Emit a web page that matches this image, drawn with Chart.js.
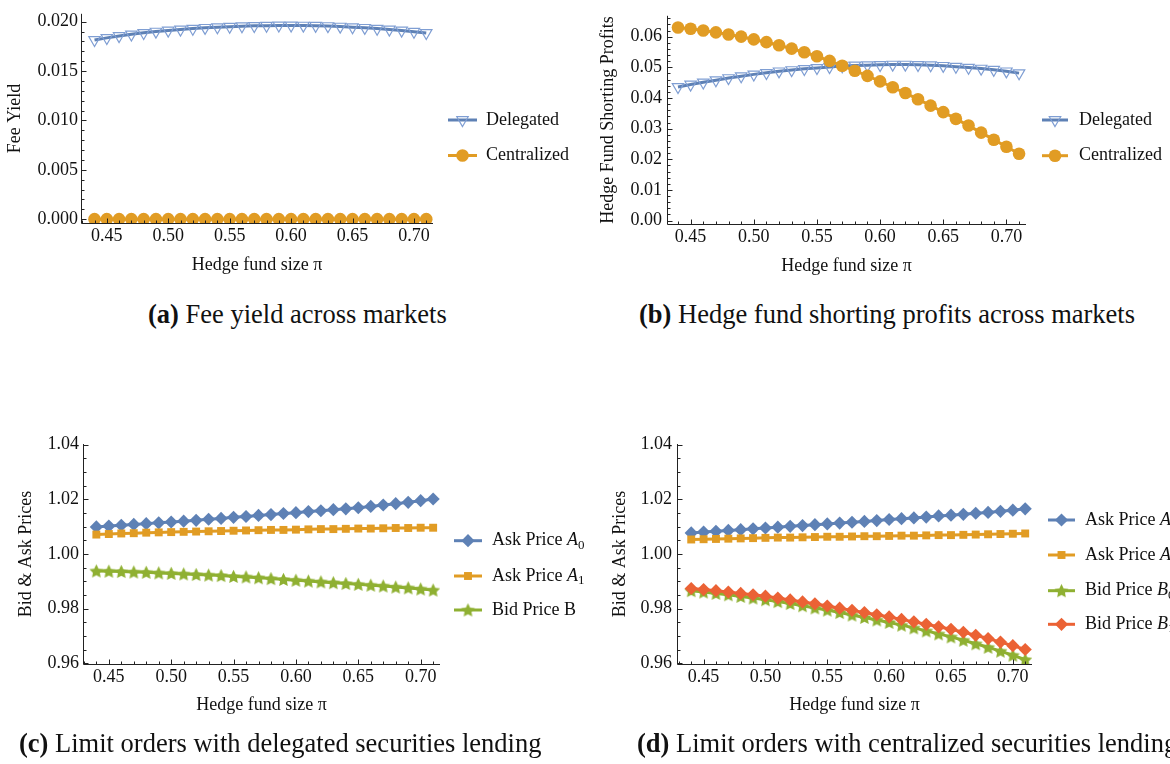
<!DOCTYPE html>
<html>
<head>
<meta charset="utf-8">
<script src="https://cdn.jsdelivr.net/npm/chart.js@4"></script>
<style>
  html, body { margin: 0; padding: 0; background: #fff; }
  body { width: 1170px; height: 764px; position: relative; overflow: hidden; }
  canvas { position: absolute; }
  .cap { position: absolute; white-space: nowrap; font-family: 'Liberation Serif', 'Times New Roman', serif;
         font-size: 26.5px; line-height: 30px; color: #111; }
</style>
</head>
<body>
<canvas id="pa" width="585" height="290" style="left:0;top:0"></canvas>
<canvas id="pb" width="585" height="290" style="left:585px;top:0"></canvas>
<canvas id="pc" width="585" height="330" style="left:0;top:400px"></canvas>
<canvas id="pd" width="585" height="330" style="left:585px;top:400px"></canvas>
<div class="cap" style="left:148px;top:299px"><b>(a)</b> Fee yield across markets</div>
<div class="cap" style="left:639px;top:299px"><b>(b)</b> Hedge fund shorting profits across markets</div>
<div class="cap" style="left:19px;top:728px"><b>(c)</b> Limit orders with delegated securities lending</div>
<div class="cap" style="left:637px;top:728px"><b>(d)</b> Limit orders with centralized securities lending</div>
<script>
// ---- data ----
const hedgeFundSize = [0.44, 0.45, 0.46, 0.47, 0.48, 0.49, 0.50, 0.51, 0.52, 0.53, 0.54, 0.55, 0.56, 0.57,
                       0.58, 0.59, 0.60, 0.61, 0.62, 0.63, 0.64, 0.65, 0.66, 0.67, 0.68, 0.69, 0.70, 0.71];

const feeYieldDelegated = [0.01815, 0.01836, 0.01855, 0.01872, 0.01887, 0.01900, 0.01911, 0.01921, 0.01930, 0.01938,
                           0.01945, 0.01950, 0.01955, 0.01958, 0.01960, 0.01962, 0.01962, 0.01961, 0.01959, 0.01956,
                           0.01951, 0.01945, 0.01938, 0.01930, 0.01921, 0.01911, 0.01899, 0.01886];
const feeYieldCentralized = [0, 0, 0, 0, 0, 0, 0, 0, 0, 0, 0, 0, 0, 0, 0, 0, 0, 0, 0, 0, 0, 0, 0, 0, 0, 0, 0, 0];

const profitsDelegated = [0.0436, 0.0444, 0.0451, 0.0458, 0.0465, 0.0471, 0.0477, 0.0482, 0.0487, 0.0491,
                          0.0495, 0.0498, 0.0501, 0.0504, 0.0506, 0.0507, 0.0508, 0.0509, 0.0509, 0.0508,
                          0.0507, 0.0505, 0.0502, 0.0499, 0.0496, 0.0492, 0.0487, 0.0481];
const profitsCentralized = [0.0630, 0.0626, 0.0620, 0.0614, 0.0607, 0.0600, 0.0591, 0.0582, 0.0572, 0.0561,
                            0.0549, 0.0536, 0.0521, 0.0505, 0.0489, 0.0472, 0.0454, 0.0435, 0.0416, 0.0396,
                            0.0375, 0.0354, 0.0332, 0.0310, 0.0287, 0.0264, 0.0241, 0.0218];

const delegatedAskA0 = [1.0099, 1.0102, 1.0105, 1.0108, 1.0111, 1.0114, 1.0117, 1.0120, 1.0123, 1.0127,
                        1.0130, 1.0134, 1.0137, 1.0141, 1.0144, 1.0148, 1.0151, 1.0155, 1.0158, 1.0162,
                        1.0165, 1.0169, 1.0174, 1.0179, 1.0184, 1.0189, 1.0195, 1.0201];
const delegatedAskA1 = [1.0071, 1.0073, 1.0075, 1.0076, 1.0078, 1.0079, 1.0080, 1.0081, 1.0082, 1.0083,
                        1.0084, 1.0085, 1.0086, 1.0087, 1.0088, 1.0088, 1.0089, 1.0090, 1.0091, 1.0091,
                        1.0092, 1.0093, 1.0093, 1.0094, 1.0095, 1.0095, 1.0096, 1.0096];
const delegatedBidB = [0.9938, 0.9937, 0.9936, 0.9934, 0.9933, 0.9931, 0.9929, 0.9927, 0.9925, 0.9923,
                       0.9921, 0.9918, 0.9916, 0.9913, 0.9910, 0.9907, 0.9904, 0.9901, 0.9898, 0.9895,
                       0.9892, 0.9889, 0.9886, 0.9883, 0.9879, 0.9876, 0.9872, 0.9868];

const centralizedAskA0 = [1.0077, 1.0080, 1.0083, 1.0086, 1.0089, 1.0092, 1.0095, 1.0098, 1.0101, 1.0104,
                          1.0107, 1.0110, 1.0113, 1.0116, 1.0119, 1.0122, 1.0126, 1.0129, 1.0132, 1.0135,
                          1.0139, 1.0142, 1.0145, 1.0149, 1.0152, 1.0156, 1.0160, 1.0165];
const centralizedAskA1 = [1.0053, 1.0054, 1.0055, 1.0056, 1.0057, 1.0058, 1.0059, 1.0060, 1.0060, 1.0061,
                          1.0062, 1.0063, 1.0063, 1.0064, 1.0065, 1.0065, 1.0066, 1.0067, 1.0067, 1.0068,
                          1.0069, 1.0069, 1.0070, 1.0071, 1.0072, 1.0073, 1.0074, 1.0075];
const centralizedBidB0 = [0.9866, 0.9861, 0.9856, 0.9851, 0.9845, 0.9839, 0.9833, 0.9826, 0.9819, 0.9811,
                          0.9803, 0.9795, 0.9786, 0.9777, 0.9768, 0.9759, 0.9750, 0.9740, 0.9730, 0.9719,
                          0.9708, 0.9697, 0.9685, 0.9672, 0.9659, 0.9645, 0.9630, 0.9614];
const centralizedBidB1 = [0.9874, 0.9870, 0.9866, 0.9861, 0.9856, 0.9851, 0.9846, 0.9839, 0.9832, 0.9825,
                          0.9818, 0.9810, 0.9802, 0.9794, 0.9786, 0.9778, 0.9770, 0.9761, 0.9752, 0.9743,
                          0.9734, 0.9725, 0.9714, 0.9703, 0.9691, 0.9678, 0.9665, 0.9651];

// tick labels
const xTickLabels = ['0.45', '0.50', '0.55', '0.60', '0.65', '0.70'];
const feeTickLabels = ['0.000', '0.005', '0.010', '0.015', '0.020'];
const profitTickLabels = ['0.00', '0.01', '0.02', '0.03', '0.04', '0.05', '0.06'];
const priceTickLabels = ['0.96', '0.98', '1.00', '1.02', '1.04'];

// ---- styling ----
const SERIF = "'Liberation Serif', 'Times New Roman', serif";
const BLUE = '#5E81B5', ORANGE = '#E19C24', GREEN = '#8FB032', RED = '#EB6235';
const AXIS = '#222';

function starMarker(color, r) {
  const size = Math.ceil(2 * r) + 2;
  const c = document.createElement('canvas');
  c.width = c.height = size;
  const g = c.getContext('2d');
  g.fillStyle = color;
  g.beginPath();
  for (let k = 0; k < 10; k++) {
    const rr = k % 2 ? r * 0.5 : r;
    const a = -Math.PI / 2 + k * Math.PI / 5;
    g.lineTo(size / 2 + rr * Math.cos(a), size / 2 + 0.6 + rr * Math.sin(a));
  }
  g.closePath();
  g.fill();
  return c;
}
const STAR = starMarker(GREEN, 7.3);

const markers = {
  triangleDown: { pointStyle: 'triangle', pointRotation: 180, pointRadius: 6.6,
                  pointBackgroundColor: 'rgba(255,255,255,0)', pointBorderColor: '#7F9ED3', pointBorderWidth: 1.2 },
  disc:    (c) => ({ pointStyle: 'circle', pointRadius: 6.3, pointBackgroundColor: c, pointBorderColor: c, pointBorderWidth: 0 }),
  diamond: (c) => ({ pointStyle: 'rectRot', pointRadius: 6.6, pointBackgroundColor: c, pointBorderColor: c, pointBorderWidth: 0 }),
  square:  (c) => ({ pointStyle: 'rect', pointRadius: 5.6, pointBackgroundColor: c, pointBorderColor: c, pointBorderWidth: 0 }),
  star:    { pointStyle: STAR, pointRadius: 7, pointBackgroundColor: GREEN, pointBorderColor: GREEN, pointBorderWidth: 0 }
};

function series(label, values, color, marker, idx) {
  return Object.assign({
    label: label,
    data: hedgeFundSize.map((x, i) => ({ x: x, y: values[i] })),
    borderColor: color,
    borderWidth: 3,
    tension: 0,
    order: -idx
  }, marker);
}

// Axis lines with inward major/minor ticks, drawn from the chart's scales
const inwardAxes = {
  id: 'inwardAxes',
  afterDatasetsDraw(chart, args, o) {
    const { ctx, chartArea: ca, scales: { x, y } } = chart;
    ctx.save();
    ctx.strokeStyle = AXIS;
    ctx.lineWidth = 1;
    const seg = (x1, y1, x2, y2) => { ctx.beginPath(); ctx.moveTo(x1, y1); ctx.lineTo(x2, y2); ctx.stroke(); };
    const isMajor = (v, step) => Math.abs(v / step - Math.round(v / step)) < 1e-6;
    const bottom = Math.round(ca.bottom) + 0.5, left = Math.round(ca.left) + 0.5;
    seg(left, ca.top, left, bottom);
    seg(left, bottom, ca.right, bottom);
    for (let k = Math.ceil(x.min / o.xMinor - 1e-9); k * o.xMinor <= x.max + 1e-9; k++) {
      const v = k * o.xMinor;
      const px = Math.round(x.getPixelForValue(v)) + 0.5;
      seg(px, bottom, px, bottom - (isMajor(v, o.xMajor) ? 5 : 3));
    }
    for (let k = Math.ceil(y.min / o.yMinor - 1e-9); k * o.yMinor <= y.max + 1e-9; k++) {
      const v = k * o.yMinor;
      const py = Math.round(y.getPixelForValue(v)) + 0.5;
      seg(left, py, left + (isMajor(v, o.yMajor) ? 5 : 3), py);
    }
    ctx.restore();
  }
};

// Side legend: line sample + marker, text with italic symbol and subscript, e.g. "Ask Price {A}_0"
function drawRichText(ctx, text, x, y, size) {
  const m = text.match(/^(.*?)\{(\w+)\}(?:_(\w+))?$/);
  ctx.textBaseline = 'middle';
  ctx.textAlign = 'left';
  ctx.fillStyle = '#111';
  ctx.font = size + 'px ' + SERIF;
  if (!m) { ctx.fillText(text, x, y); return; }
  ctx.fillText(m[1], x, y);
  x += ctx.measureText(m[1]).width;
  ctx.font = 'italic ' + size + 'px ' + SERIF;
  ctx.fillText(m[2], x, y);
  x += ctx.measureText(m[2]).width;
  if (m[3]) {
    ctx.font = Math.round(size * 0.7) + 'px ' + SERIF;
    ctx.fillText(m[3], x, y + size * 0.25);
  }
}
const sideLegend = {
  id: 'sideLegend',
  afterDraw(chart, args, o) {
    const ctx = chart.ctx;
    chart.data.datasets.forEach((ds, i) => {
      const y = o.ys[i];
      ctx.save();
      ctx.strokeStyle = ds.borderColor;
      ctx.lineWidth = ds.borderWidth;
      ctx.beginPath(); ctx.moveTo(o.x0, y); ctx.lineTo(o.x1, y); ctx.stroke();
      ctx.fillStyle = ds.pointBackgroundColor;
      ctx.strokeStyle = ds.pointBorderColor;
      ctx.lineWidth = ds.pointBorderWidth;
      Chart.helpers.drawPoint(ctx, {
        pointStyle: ds.pointStyle, radius: ds.pointRadius,
        rotation: ds.pointRotation || 0, borderWidth: ds.pointBorderWidth
      }, (o.x0 + o.x1) / 2, y);
      drawRichText(ctx, ds.label, o.tx, y, 18);
      ctx.restore();
    });
  }
};

function makeChart(id, p) {
  const yTickValues = p.yTicks.map(parseFloat);
  const xTickValues = xTickLabels.map(parseFloat);
  const tickFont = { family: SERIF, size: 18 };
  return new Chart(document.getElementById(id), {
    type: 'line',
    data: { datasets: p.datasets },
    plugins: [inwardAxes, sideLegend],
    options: {
      responsive: false,
      animation: false,
      events: [],
      layout: { padding: p.pad },
      plugins: {
        legend: { display: false },
        tooltip: { enabled: false },
        inwardAxes: { xMinor: 0.01, xMajor: 0.05, yMinor: p.yMinor, yMajor: p.yMajor },
        sideLegend: p.legend
      },
      scales: {
        x: {
          type: 'linear', min: p.xRange[0], max: p.xRange[1],
          grid: { display: false, drawTicks: false },
          border: { display: false },
          afterBuildTicks: (s) => { s.ticks = xTickValues.map(v => ({ value: v })); },
          afterFit: (s) => { s.height = p.xH; },
          ticks: { font: tickFont, color: '#111', padding: 2, maxRotation: 0, autoSkip: false,
                   callback: (v, i) => xTickLabels[i] },
          title: { display: true, text: 'Hedge fund size π', font: { family: SERIF, size: 18 }, color: '#111',
                   padding: { top: 0, bottom: p.xTitlePad } }
        },
        y: {
          type: 'linear', min: p.yRange[0], max: p.yRange[1],
          grid: { display: false, drawTicks: false },
          border: { display: false },
          afterBuildTicks: (s) => { s.ticks = yTickValues.map(v => ({ value: v })); },
          afterFit: (s) => { s.width = p.yW; },
          ticks: { font: tickFont, color: '#111', padding: p.yTickPad, callback: (v, i) => p.yTicks[i] },
          title: { display: true, text: p.yTitle, font: { family: SERIF, size: 18 }, color: '#111',
                   padding: { top: p.yTitlePad, bottom: 0 } }
        }
      }
    }
  });
}

makeChart('pa', {
  datasets: [
    series('Delegated', feeYieldDelegated, BLUE, markers.triangleDown, 0),
    series('Centralized', feeYieldCentralized, ORANGE, markers.disc(ORANGE), 1)
  ],
  pad: { left: 0, top: 5, right: 152, bottom: 0 },
  yW: 81, xH: 67, xRange: [0.4290, 0.7155], yRange: [-0.00039, 0.0208],
  yTicks: feeTickLabels, yMinor: 0.001, yMajor: 0.005,
  yTitle: 'Fee Yield', yTitlePad: 4.2, yTickPad: 3, xTitlePad: 14.2,
  legend: { x0: 448, x1: 477, tx: 486, ys: [120, 155.5] }
});

makeChart('pb', {
  datasets: [
    series('Delegated', profitsDelegated, BLUE, markers.triangleDown, 0),
    series('Centralized', profitsCentralized, ORANGE, markers.disc(ORANGE), 1)
  ],
  pad: { left: 0, top: 2, right: 144, bottom: 0 },
  yW: 82, xH: 66, xRange: [0.4313, 0.7155], yRange: [-0.0011, 0.0668],
  yTicks: profitTickLabels, yMinor: 0.002, yMajor: 0.01,
  yTitle: 'Hedge Fund Shorting Profits', yTitlePad: 12.5, yTickPad: 5, xTitlePad: 12.5,
  legend: { x0: 457, x1: 483, tx: 494, ys: [120, 155.7] }
});

makeChart('pc', {
  datasets: [
    series('Ask Price {A}_0', delegatedAskA0, BLUE, markers.diamond(BLUE), 0),
    series('Ask Price {A}_1', delegatedAskA1, ORANGE, markers.square(ORANGE), 1),
    series('Bid Price B', delegatedBidB, GREEN, markers.star, 2)
  ],
  pad: { left: 0, top: 44, right: 145, bottom: 0 },
  yW: 83, xH: 66, xRange: [0.4293, 0.7155], yRange: [0.9598, 1.0402],
  yTicks: priceTickLabels, yMinor: 0.005, yMajor: 0.02,
  yTitle: 'Bid & Ask Prices', yTitlePad: 15.9, yTickPad: 4, xTitlePad: 14.2,
  legend: { x0: 454, x1: 482, tx: 492, ys: [140.7, 176, 210] }
});

makeChart('pd', {
  datasets: [
    series('Ask Price {A}_0', centralizedAskA0, BLUE, markers.diamond(BLUE), 0),
    series('Ask Price {A}_1', centralizedAskA1, ORANGE, markers.square(ORANGE), 1),
    series('Bid Price {B}_0', centralizedBidB0, GREEN, markers.star, 2),
    series('Bid Price {B}_1', centralizedBidB1, RED, markers.diamond(RED), 3)
  ],
  pad: { left: 0, top: 44, right: 138, bottom: 0 },
  yW: 92, xH: 66, xRange: [0.4285, 0.7155], yRange: [0.9598, 1.0402],
  yTicks: priceTickLabels, yMinor: 0.005, yMajor: 0.02,
  yTitle: 'Bid & Ask Prices', yTitlePad: 24.2, yTickPad: 5, xTitlePad: 14.2,
  legend: { x0: 463, x1: 490, tx: 500, ys: [120, 155, 190.7, 224.3] }
});
</script>
</body>
</html>
